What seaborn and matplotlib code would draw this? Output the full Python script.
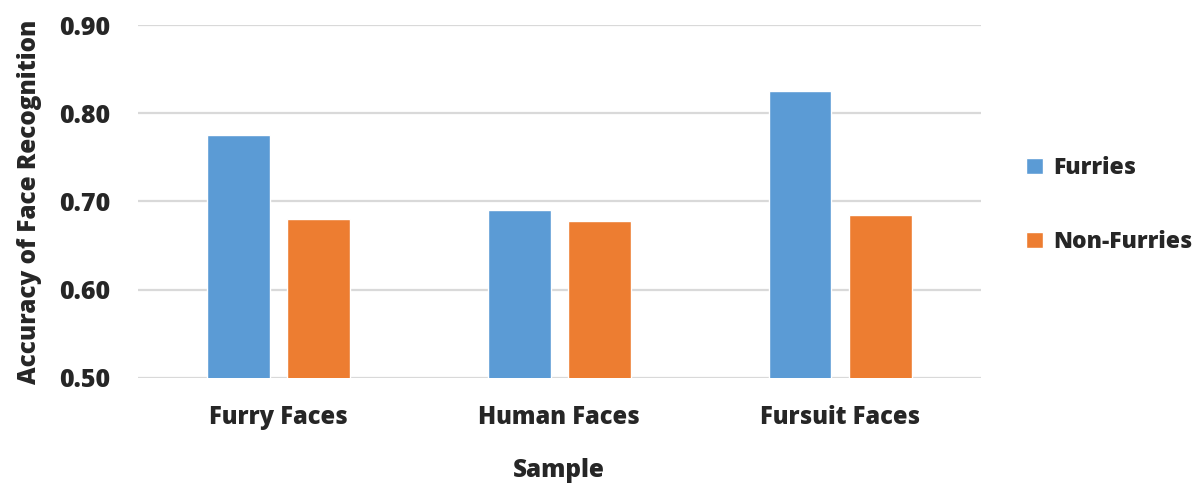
import matplotlib
matplotlib.use("Agg")
import matplotlib.pyplot as plt
import seaborn as sns
import pandas as pd

categories = ["Furry Faces", "Human Faces", "Fursuit Faces"]
furries = [0.775, 0.690, 0.825]
non_furries = [0.680, 0.678, 0.685]
series_names = ["Furries", "Non-Furries"]
yticks = [0.50, 0.60, 0.70, 0.80, 0.90]

df = pd.DataFrame({
    "Sample": categories * 2,
    "Accuracy": furries + non_furries,
    "Group": [series_names[0]] * 3 + [series_names[1]] * 3,
})

sns.set_theme(style="white")
plt.rcParams["font.family"] = ["Open Sans", "DejaVu Sans"]
plt.rcParams["font.weight"] = "bold"

fig = plt.figure(figsize=(11.98, 4.84), dpi=100)
ax = fig.add_axes([0.1152, 0.2196, 0.8185 - 0.1152, 0.948 - 0.2196])

palette = {"Furries": "#5B9BD5", "Non-Furries": "#ED7D31"}
sns.barplot(data=df, x="Sample", y="Accuracy", hue="Group", order=categories,
            hue_order=series_names, palette=palette, width=0.571, gap=0.216,
            saturation=1, ax=ax, zorder=3)

W = 800
ax.set_ylim(0.5, 0.9)
ax.set_xlim(-0.5, 2.5)
ax.set_yticks(yticks)
ax.set_yticklabels([f"{v:.2f}" for v in yticks], fontsize=18, fontweight=W)
ax.tick_params(axis="y", length=0, pad=20)
ax.tick_params(axis="x", length=0, pad=20)
for t in ax.get_xticklabels():
    t.set_fontsize(17)
    t.set_fontweight(W)
ax.yaxis.grid(True, color="#D9D9D9", linewidth=1.6, zorder=0)
ax.set_axisbelow(True)
for s in ax.spines.values():
    s.set_visible(False)

ax.set_xlabel("Sample", fontsize=17.5, fontweight=W, labelpad=20)
ax.set_ylabel("Accuracy of Face Recognition", fontsize=17.5, fontweight=W, labelpad=12)

handles, labels = ax.get_legend_handles_labels()
ax.legend(handles, labels, loc="center left", bbox_to_anchor=(1.03, 0.49),
          frameon=False, prop={"size": 16.5, "weight": W},
          handlelength=0.7, handleheight=0.7, handletextpad=0.45, labelspacing=2.2)

fig.savefig("out.png", dpi=100)
